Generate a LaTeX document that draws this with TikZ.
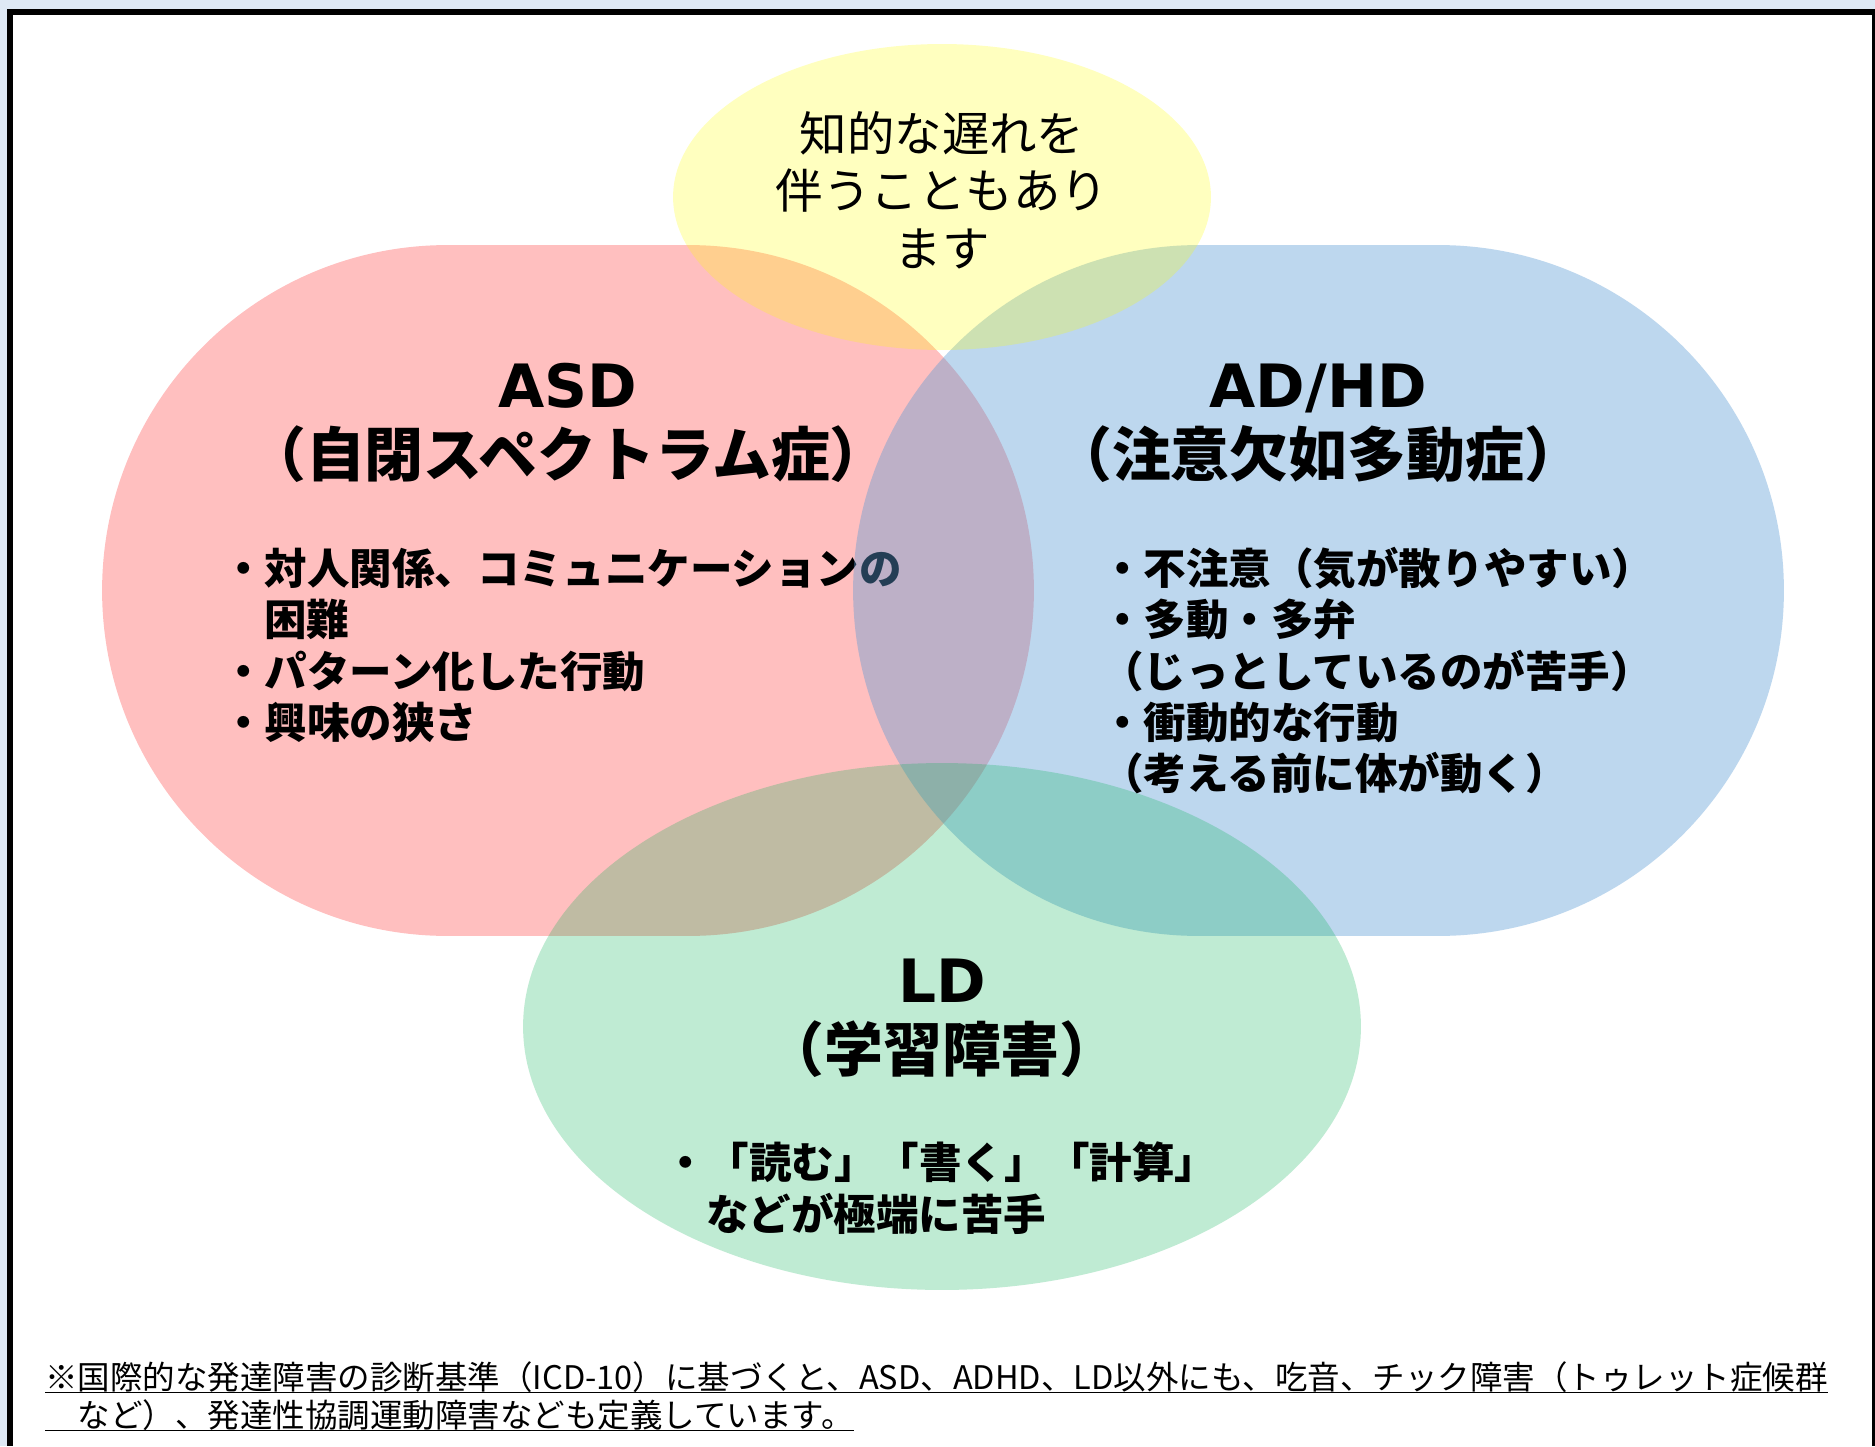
\documentclass[tikz,border=0pt]{standalone}
\usepackage{fontspec}
\setmainfont{Noto Sans CJK JP}
\newfontfamily\lat{DejaVu Sans}
\usetikzlibrary{shapes.geometric,shapes.misc}
\definecolor{pageblue}{HTML}{DEE9F5}
\definecolor{cred}{HTML}{FF0000}
\definecolor{cblue}{HTML}{5B9BD5}
\definecolor{cyellow}{HTML}{FFFF00}
\definecolor{cgreen}{HTML}{00B050}
\begin{document}
\begin{tikzpicture}[x=0.02cm,y=-0.02cm,
  blob/.style={draw=none,inner sep=0pt,outer sep=0pt},
  ttlat/.style={anchor=base,inner sep=0pt,font=\lat\fontsize{34}{40}\selectfont\bfseries},
  ttjp/.style={anchor=base,inner sep=0pt,font=\fontsize{33.5}{38}\selectfont\bfseries},
  note/.style={anchor=base,inner sep=0pt,font=\fontsize{27}{32}\selectfont},
  bul/.style={anchor=base west,inner sep=0pt,font=\fontsize{24.2}{29}\selectfont\bfseries},
  foot/.style={anchor=base west,inner sep=0pt,font=\fontsize{18.5}{22}\selectfont},
  uline/.style={line width=1.1pt}]
% page
\fill[pageblue] (0,0) rectangle (1875,1446);
\fill[black] (7,9) rectangle (1875,1446);
\fill[white] (13,15) rectangle (1872,1446);
\useasboundingbox (0,0) rectangle (1875,1446);
% ASD
\node[blob,rounded rectangle,fill=cred,fill opacity=.25,minimum width=18.64cm,minimum height=13.82cm] (asd) at (568,590.5) {};
\node[ttlat] (asdT) at (568,407) {ASD};
\node[ttjp] (asdJ) at (568,476) {（自閉スペクトラム症）};
\node[bul] (asd1) at (222,584) {・対人関係、コミュニケーションの};
\node[bul] (asd2) at (264,635) {困難};
\node[bul] (asd3) at (222,687) {・パターン化した行動};
\node[bul] (asd4) at (222,738) {・興味の狭さ};
% ADHD
\node[blob,rounded rectangle,fill=cblue,fill opacity=.4,minimum width=18.62cm,minimum height=13.82cm] (adhd) at (1318.5,590.5) {};
% yellow
\node[blob,ellipse,fill=cyellow,fill opacity=.25,minimum width=10.76cm,minimum height=6.12cm] (iq) at (942,197) {};
% LD
\node[blob,ellipse,fill=cgreen,fill opacity=.25,minimum width=16.76cm,minimum height=10.54cm] (ld) at (942,1026.5) {};
% texts
\node[note] (iq1) at (942,152) {知的な遅れを};
\node[note] (iq2) at (942,209) {伴うこともあり};
\node[note] (iq3) at (942,266) {ます};
\node[ttlat] (adhdT) at (1318,407) {AD/HD};
\node[ttjp] (adhdJ) at (1318,476) {（注意欠如多動症）};
\node[bul] (ad1) at (1101,584) {・不注意（気が散りやすい）};
\node[bul] (ad2) at (1101,635) {・多動・多弁};
\node[bul] (ad3) at (1101,687) {（じっとしているのが苦手）};
\node[bul] (ad4) at (1101,738) {・衝動的な行動};
\node[bul] (ad5) at (1101,789) {（考える前に体が動く）};
\node[ttlat] (ldT) at (942,1002) {LD};
\node[ttjp] (ldJ) at (942,1071) {（学習障害）};
\node[bul] (ld1) at (664,1178) {・「読む」「書く」「計算」};
\node[bul] (ld2) at (706,1230) {などが極端に苦手};
% footnote
\node[foot] (fn1) at (45,1389) {※国際的な発達障害の診断基準（ICD-10）に基づくと、ASD、ADHD、LD以外にも、吃音、チック障害（トゥレット症候群};
\node[foot] (fn2) at (45,1427) {　など）、発達性協調運動障害なども定義しています。};
\draw[uline] ([yshift=-2pt]fn1.base west) -- ([yshift=-2pt]fn1.base east);
\draw[uline] ([yshift=-2pt]fn2.base west) -- ([yshift=-2pt]fn2.base east);
\end{tikzpicture}
\end{document}
